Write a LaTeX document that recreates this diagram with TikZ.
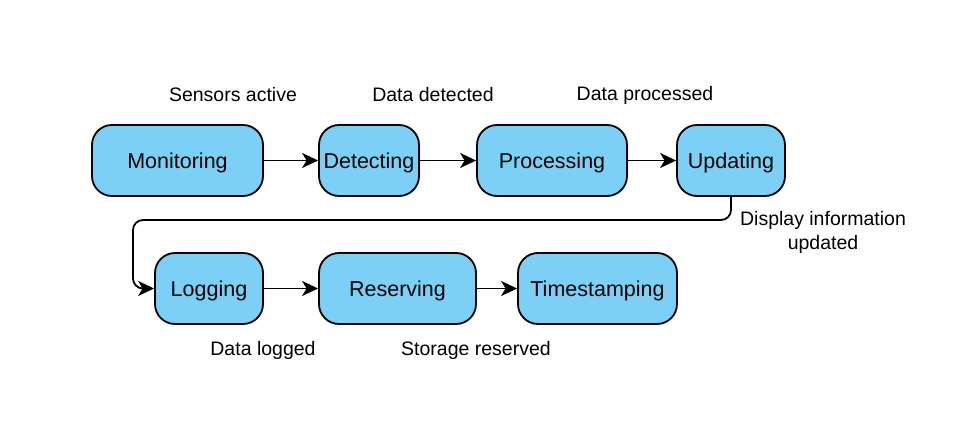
\documentclass[tikz,border=0pt]{standalone}
\usepackage{fontspec}
\setmainfont{Liberation Sans}
\usetikzlibrary{arrows.meta}
\definecolor{boxfill}{RGB}{125,208,245}
\begin{document}
\begin{tikzpicture}[x=1pt,y=-1pt,
  stbox/.style={draw=black,line width=1.8pt,fill=boxfill,rounded corners=20pt,
     inner sep=0pt,minimum height=71pt,text height=15.5pt,text depth=0pt,
     font=\fontsize{21.5}{25}\selectfont},
  lbl/.style={font=\fontsize{19.5}{24}\selectfont,align=center},
  conn/.style={draw=black,line width=1.8pt,-{Stealth[length=16pt,width=15pt,inset=4.5pt]}}]
\useasboundingbox (0,0) rectangle (978,436);
\fill[white] (0,0) rectangle (978,436);
\node[stbox,minimum width=171pt] (mon) at (177.5,160.5) {Monitoring};
\node[stbox,minimum width=100pt] (det) at (369,160.5) {Detecting};
\node[stbox,minimum width=150pt] (pro) at (552,160.5) {Processing};
\node[stbox,minimum width=108pt] (upd) at (731,160.5) {Updating};
\node[stbox,minimum width=108pt] (log) at (209,288.5) {Logging};
\node[stbox,minimum width=157pt] (res) at (397.5,288.5) {Reserving};
\node[stbox,minimum width=159pt] (tim) at (597.5,288.5) {Timestamping};
\node[lbl] (l1) at (233,95) {Sensors active};
\node[lbl] (l2) at (433,95) {Data detected};
\node[lbl] (l3) at (645,95) {Data processed};
\node[lbl] (l4) at (823,232) {Display information\\updated};
\node[lbl] (l5) at (263,350) {Data logged};
\node[lbl] (l6) at (476,350) {Storage reserved};
\draw[conn] (mon) -- (det);
\draw[conn] (det) -- (pro);
\draw[conn] (pro) -- (upd);
\coordinate (c1) at (731,220);
\coordinate (c2) at (133,220);
\coordinate (c3) at (133,288.5);
\draw[conn,rounded corners=10pt] (upd.south) -- (c1) -- (c2) -- (c3) -- (log.west);
\draw[conn] (log) -- (res);
\draw[conn] (res) -- (tim);
\end{tikzpicture}
\end{document}
